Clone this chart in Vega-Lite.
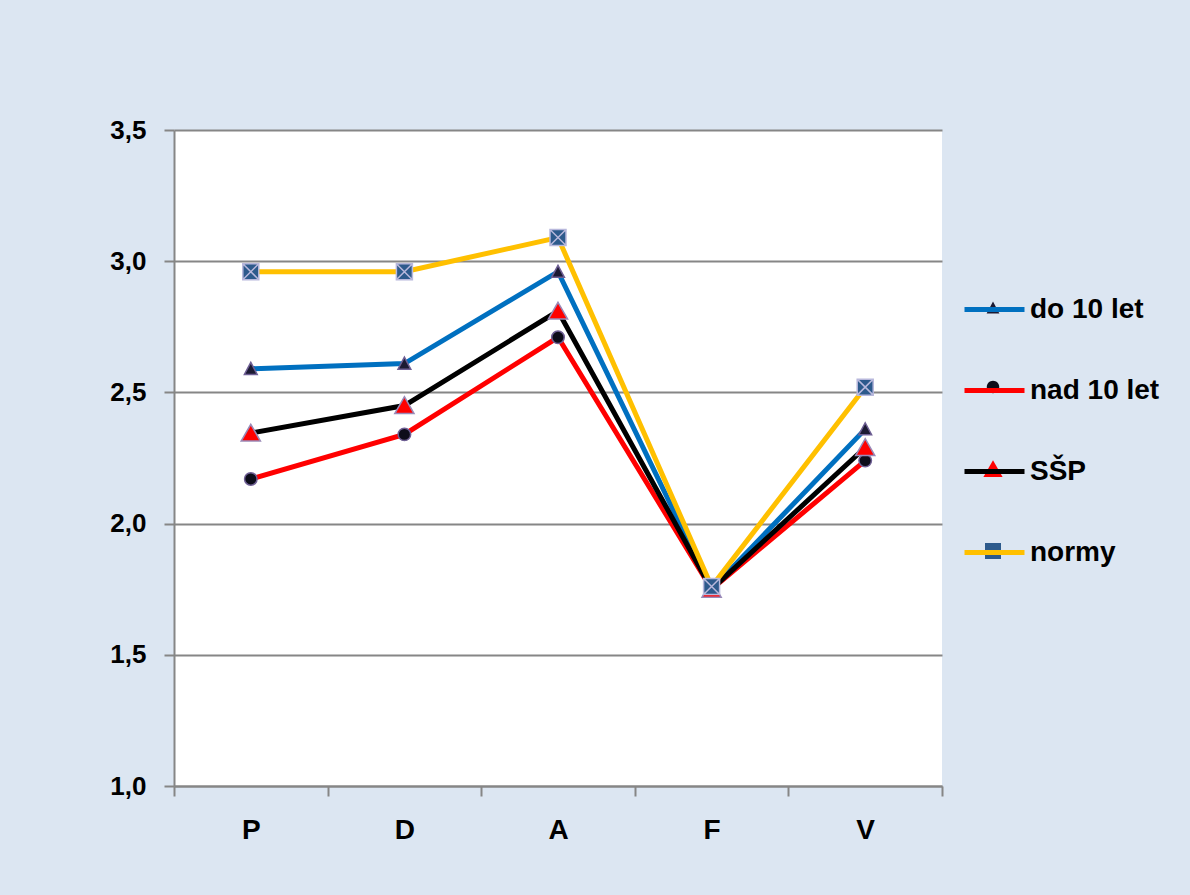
{
  "$schema": "https://vega.github.io/schema/vega-lite/v6.json",
  "width": 768,
  "height": 656,
  "autosize": {"type": "none"},
  "padding": {"left": 174, "top": 130, "right": 248, "bottom": 109},
  "background": "#dce6f2",
  "config": {"view": {"fill": "white", "stroke": null}, "font": "Liberation Sans"},
  "data": {
    "values": [
      {"series": "do 10 let", "cat": "P", "value": 2.59},
      {"series": "do 10 let", "cat": "D", "value": 2.61},
      {"series": "do 10 let", "cat": "A", "value": 2.96},
      {"series": "do 10 let", "cat": "F", "value": 1.75},
      {"series": "do 10 let", "cat": "V", "value": 2.36},
      {"series": "nad 10 let", "cat": "P", "value": 2.17},
      {"series": "nad 10 let", "cat": "D", "value": 2.34},
      {"series": "nad 10 let", "cat": "A", "value": 2.71},
      {"series": "nad 10 let", "cat": "F", "value": 1.75},
      {"series": "nad 10 let", "cat": "V", "value": 2.24},
      {"series": "SŠP", "cat": "P", "value": 2.345},
      {"series": "SŠP", "cat": "D", "value": 2.45},
      {"series": "SŠP", "cat": "A", "value": 2.81},
      {"series": "SŠP", "cat": "F", "value": 1.75},
      {"series": "SŠP", "cat": "V", "value": 2.29},
      {"series": "normy", "cat": "P", "value": 2.96},
      {"series": "normy", "cat": "D", "value": 2.96},
      {"series": "normy", "cat": "A", "value": 3.09},
      {"series": "normy", "cat": "F", "value": 1.76},
      {"series": "normy", "cat": "V", "value": 2.52}
    ]
  },
  "encoding": {
    "x": {
      "field": "cat",
      "type": "nominal",
      "scale": {"domain": ["P", "D", "A", "F", "V"], "paddingInner": 0, "paddingOuter": 0},
      "axis": {
        "title": null,
        "labelAngle": 0,
        "tickBand": "extent",
        "tickSize": 10,
        "tickColor": "#868686",
        "tickWidth": 2,
        "domainColor": "#868686",
        "domainWidth": 2,
        "labelFont": "Liberation Sans",
        "labelFontSize": 28,
        "labelFontWeight": "bold",
        "labelColor": "black",
        "labelPadding": 20,
        "grid": false
      }
    },
    "y": {
      "field": "value",
      "type": "quantitative",
      "scale": {"domain": [1, 3.5], "nice": false, "zero": false},
      "axis": {
        "title": null,
        "values": [1, 1.5, 2, 2.5, 3, 3.5],
        "labelExpr": "replace(format(datum.value, '.1f'), '.', ',')",
        "labelFont": "Liberation Sans",
        "labelFontWeight": "bold",
        "labelFontSize": 26,
        "labelColor": "black",
        "labelPadding": 18,
        "tickSize": 10,
        "tickColor": "#868686",
        "tickWidth": 2,
        "domainColor": "#868686",
        "domainWidth": 2,
        "grid": true,
        "gridColor": "#868686",
        "gridWidth": 2
      }
    }
  },
  "layer": [
    {
      "mark": {"type": "line", "strokeWidth": 5},
      "encoding": {
        "stroke": {
          "field": "series",
          "type": "nominal",
          "scale": {
            "domain": ["do 10 let", "nad 10 let", "SŠP", "normy"],
            "range": ["#0070c0", "#ff0000", "#000000", "#ffc000"]
          },
          "legend": {
            "orient": "none",
            "legendX": 788,
            "legendY": 147,
            "title": null,
            "symbolType": "M-1,0H1",
            "symbolSize": 3600,
            "symbolStrokeWidth": 5,
            "labelFont": "Liberation Sans",
            "labelFontWeight": "bold",
            "labelFontSize": 28,
            "labelColor": "black",
            "labelOffset": 3,
            "rowPadding": 34,
            "padding": 0
          }
        }
      }
    },
    {
      "mark": {"type": "point", "filled": true, "size": 256, "strokeWidth": 1.5, "opacity": 1},
      "encoding": {
        "fill": {
          "field": "series",
          "type": "nominal",
          "scale": {
            "domain": ["do 10 let", "nad 10 let", "SŠP", "normy"],
            "range": ["#1c1a33", "#0d0d1a", "#ff0000", "#2d5a8c"]
          },
          "legend": {
            "orient": "none",
            "legendX": 810,
            "legendY": 169,
            "title": null,
            "symbolSize": 256,
            "symbolStrokeWidth": 1.5,
            "symbolStrokeColor": "#9a8ab8",
            "labelOpacity": 0,
            "labelFontSize": 1,
            "rowPadding": 60,
            "padding": 0,
            "encode": {
              "symbols": {
                "enter": {"stroke": {"value": "#9a8ab8"}, "strokeWidth": {"value": 1.5}},
                "update": {"stroke": {"value": "#9a8ab8"}, "strokeWidth": {"value": 1.5}, "size": {"value": 256}, "opacity": {"value": 1}, "strokeOpacity": {"value": 1}}
              }
            }
          }
        },
        "shape": {
          "field": "series",
          "type": "nominal",
          "scale": {
            "domain": ["do 10 let", "nad 10 let", "SŠP", "normy"],
            "range": [
              "M0,-0.8L0.8,0.7L-0.8,0.7Z",
              "M-0.78,0A0.78,0.78 0 1,0 0.78,0A0.78,0.78 0 1,0 -0.78,0Z",
              "M0,-1.1L1.2,1L-1.2,1Z",
              "M-1,-1H1V1H-1ZM-1,-1L1,1M1,-1L-1,1"
            ]
          },
          "legend": {
            "orient": "none",
            "legendX": 810,
            "legendY": 169,
            "title": null,
            "symbolSize": 256,
            "symbolStrokeWidth": 1.5,
            "symbolStrokeColor": "#9a8ab8",
            "labelOpacity": 0,
            "labelFontSize": 1,
            "rowPadding": 60,
            "padding": 0,
            "encode": {
              "symbols": {
                "enter": {"stroke": {"value": "#9a8ab8"}, "strokeWidth": {"value": 1.5}},
                "update": {"stroke": {"value": "#9a8ab8"}, "strokeWidth": {"value": 1.5}, "size": {"value": 256}, "opacity": {"value": 1}, "strokeOpacity": {"value": 1}}
              }
            }
          }
        },
        "stroke": {
          "field": "series",
          "type": "nominal",
          "scale": {
            "domain": ["do 10 let", "nad 10 let", "SŠP", "normy"],
            "range": ["#6e5f94", "#6e5f94", "#9a8ab8", "#b8b8dc"]
          },
          "legend": null
        }
      }
    }
  ],
  "resolve": {"scale": {"stroke": "independent"}}
}
